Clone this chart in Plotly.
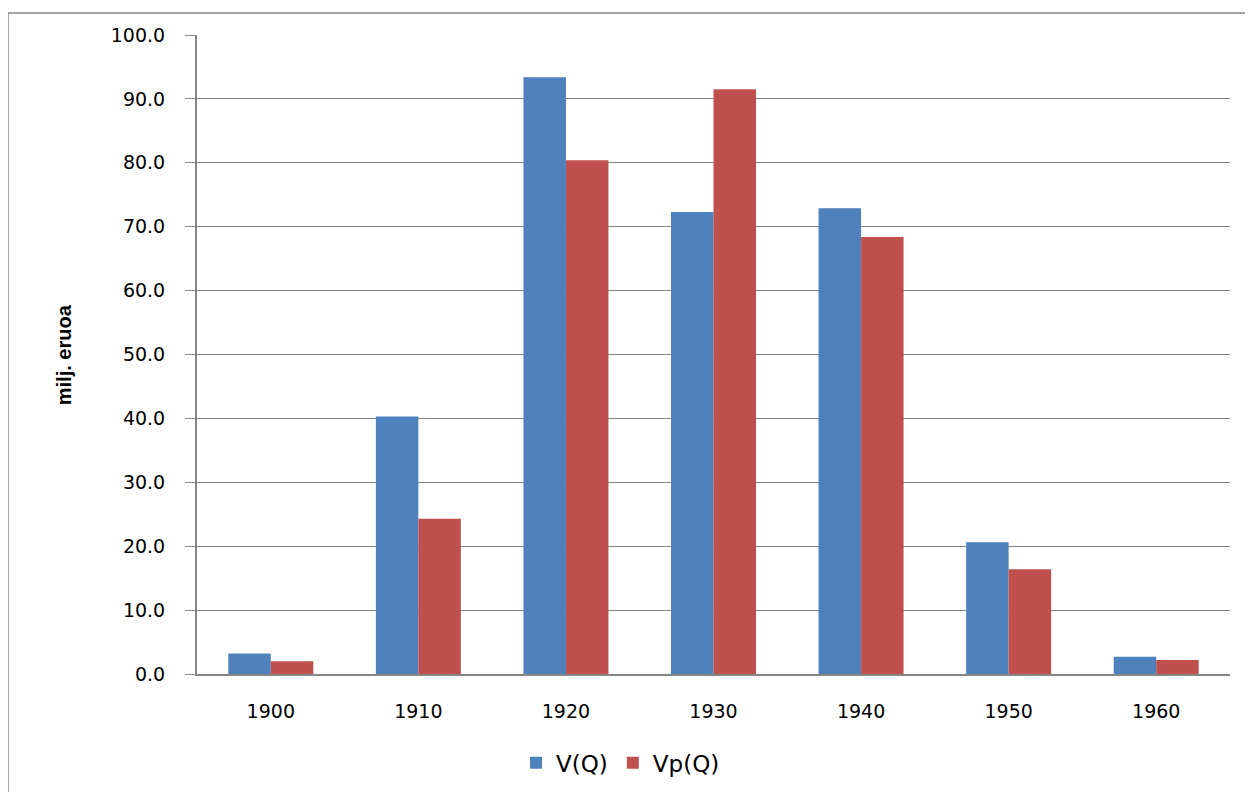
import plotly.graph_objects as go

years = ["1900", "1910", "1920", "1930", "1940", "1950", "1960"]
v_q = [3.2, 40.3, 93.4, 72.3, 72.9, 20.6, 2.7]
vp_q = [2.0, 24.3, 80.4, 91.5, 68.4, 16.4, 2.2]
y_ticks = [0, 10, 20, 30, 40, 50, 60, 70, 80, 90, 100]
y_tick_text = [f"{t:.1f}" for t in y_ticks]

fig = go.Figure()
fig.add_trace(go.Bar(x=years, y=v_q, name="V(Q)", marker=dict(color="#4F81BD", line=dict(width=0))))
fig.add_trace(go.Bar(x=years, y=vp_q, name="Vp(Q)", marker=dict(color="#C0504D", line=dict(width=0))))

fig.update_layout(
    width=1245, height=784,
    margin=dict(l=189, r=23, t=27, b=118, autoexpand=False),
    paper_bgcolor="white", plot_bgcolor="white",
    barmode="group", bargap=0.424, bargroupgap=0,
    font=dict(family="DejaVu Sans, Verdana, sans-serif", color="#000000"),
    showlegend=True,
    legend=dict(orientation="h", x=0.41, xanchor="center", y=-0.139, yanchor="middle",
                font=dict(size=23, family="DejaVu Sans, Verdana, sans-serif"),
                itemwidth=30, traceorder="normal"),
    xaxis=dict(
        type="category", showgrid=False, showline=True, linecolor="#868686", linewidth=2,
        ticks="", tickfont=dict(size=19), ticklabelstandoff=19,
    ),
    yaxis=dict(
        range=[0, 100], tickvals=y_ticks, ticktext=y_tick_text,
        showgrid=True, gridcolor="#868686", gridwidth=1,
        showline=True, linecolor="#868686", linewidth=2,
        ticks="outside", ticklen=10, tickcolor="#868686", tickwidth=1,
        tickfont=dict(size=19), ticklabelstandoff=16, zeroline=False,
    ),
    annotations=[dict(
        text="<b>milj. eruoa</b>", textangle=-90, xref="paper", yref="paper",
        x=-0.129, y=0.5, xanchor="center", yanchor="middle", showarrow=False,
        font=dict(family="Liberation Sans Narrow, Liberation Sans, Arial, sans-serif", size=20, color="#000000"),
    )],
    shapes=[dict(
        type="rect", xref="paper", yref="paper",
        x0=-0.183, y0=-0.3, x1=1.1, y1=1.0344,
        line=dict(color="#868686", width=1.5), fillcolor="rgba(0,0,0,0)", layer="below",
    )],
)

fig.write_html("out.html")
